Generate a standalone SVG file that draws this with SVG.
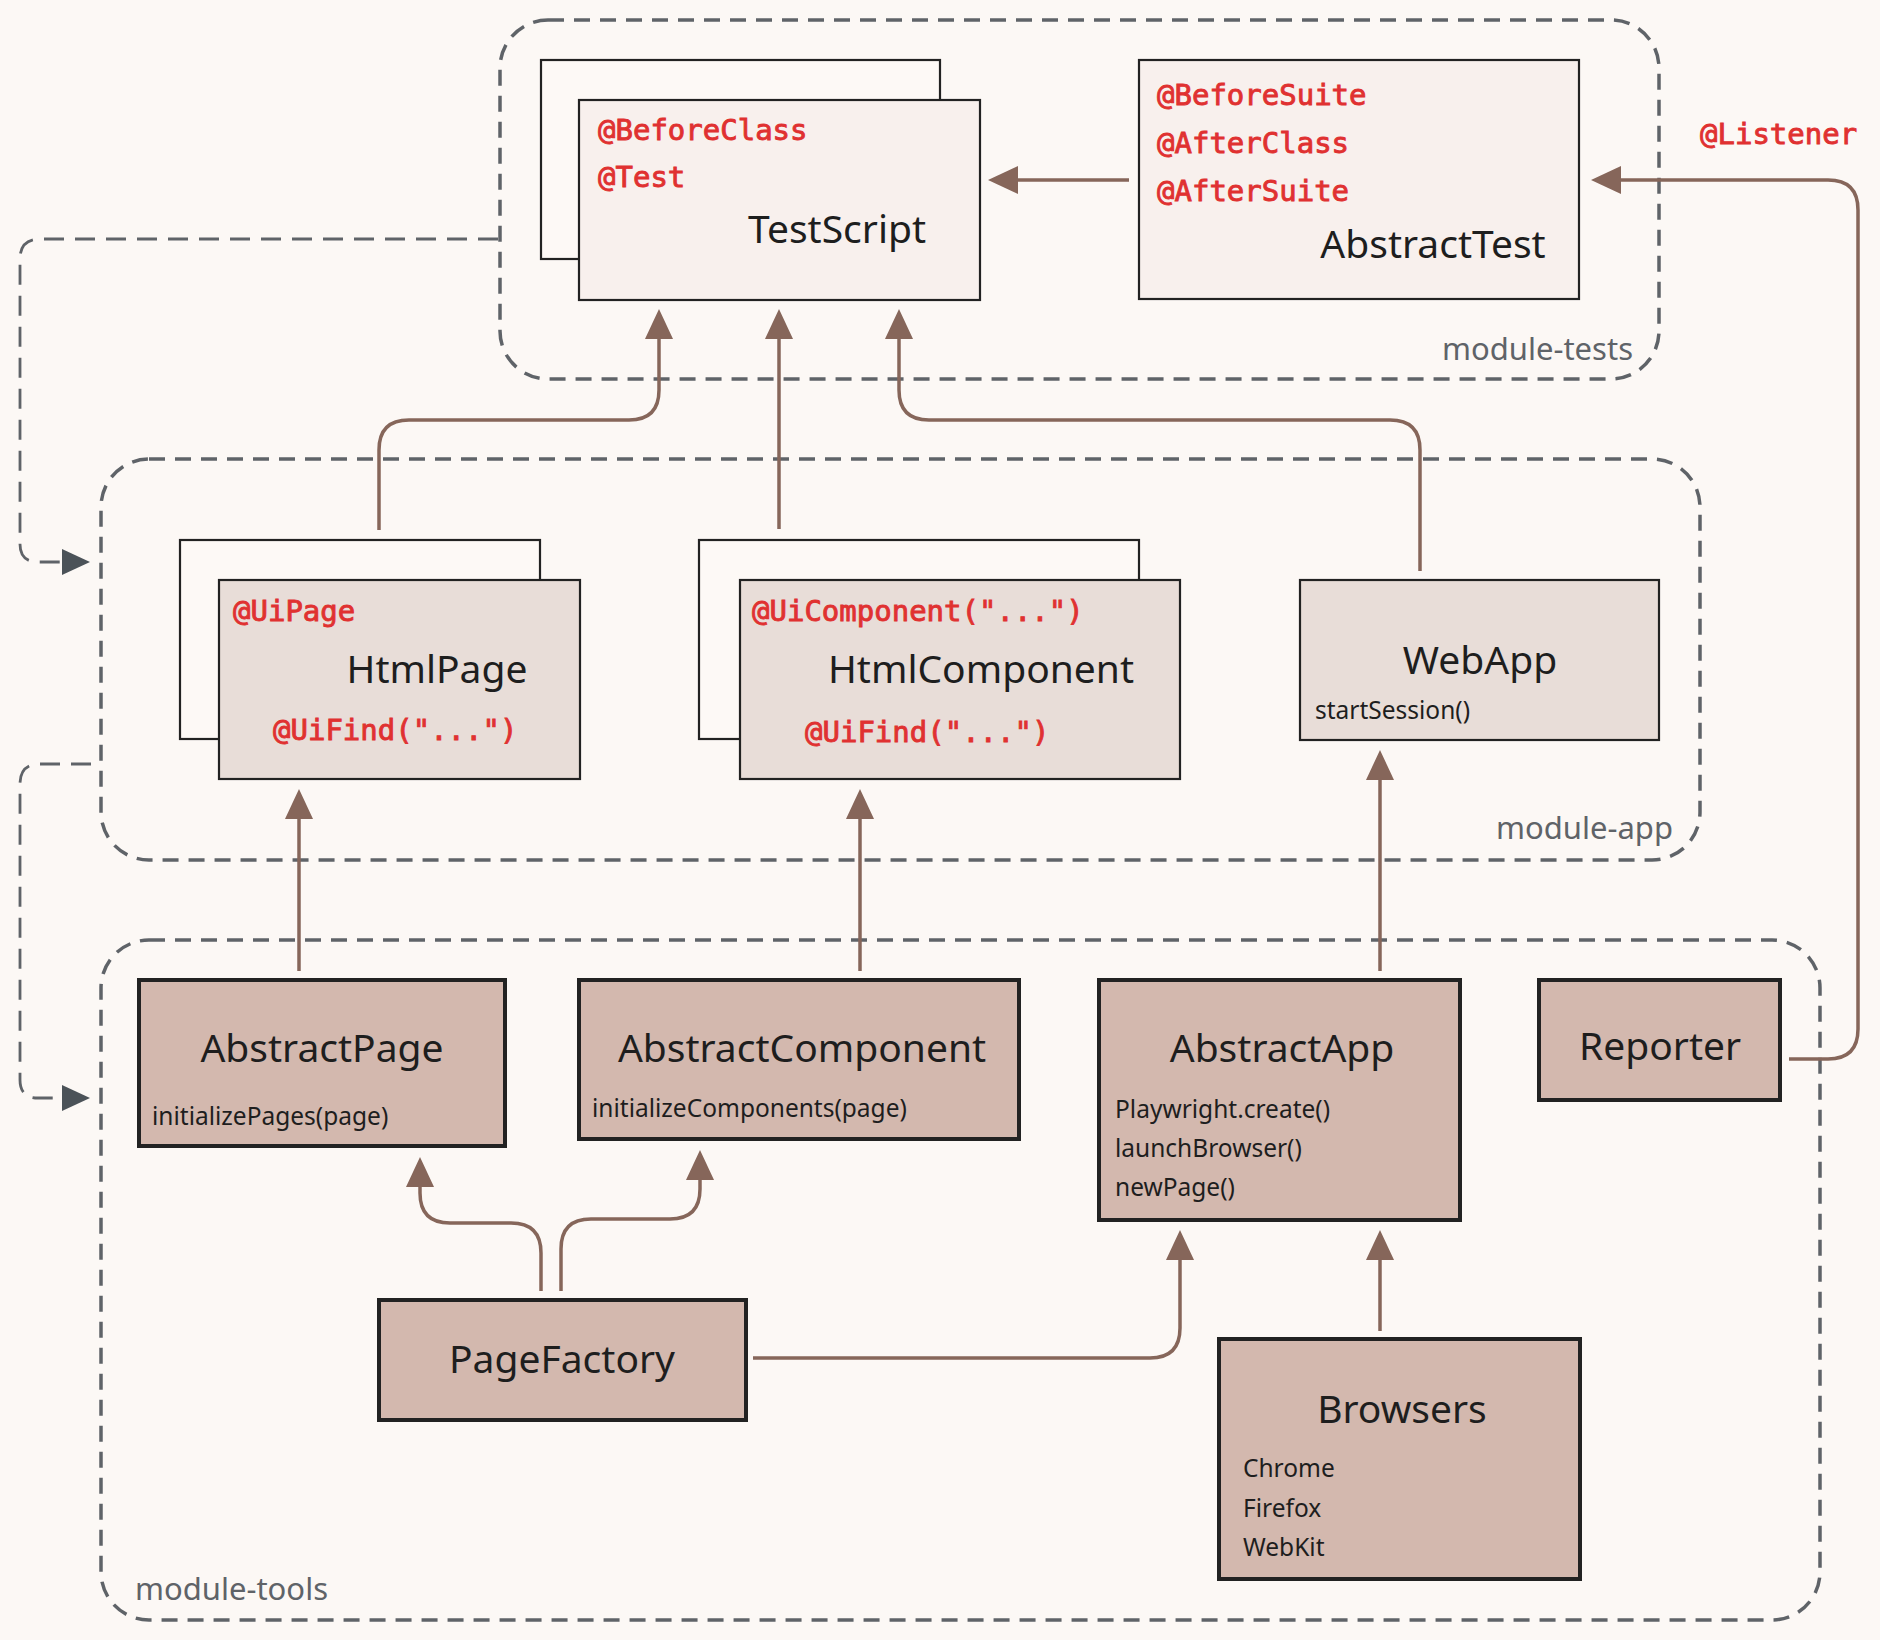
<svg xmlns="http://www.w3.org/2000/svg" width="1880" height="1640" viewBox="0 0 1880 1640">
<defs>
<marker id="ah" markerWidth="30" markerHeight="28" refX="1" refY="14" orient="auto" markerUnits="userSpaceOnUse" overflow="visible">
<path d="M0,0 L30,14 L0,28 Z" fill="#86665a"/>
</marker>
<marker id="ahg" markerWidth="28" markerHeight="28" refX="1" refY="14" orient="auto" markerUnits="userSpaceOnUse" overflow="visible">
<path d="M0,1 L28,14 L0,27 Z" fill="#4b5258"/>
</marker>
<style>
.mod{fill:none;stroke:#5f6368;stroke-width:3.5;stroke-dasharray:16 10;}
.modlbl{font-family:"Noto Sans","Liberation Sans",sans-serif;font-size:31px;fill:#5f6368;}
.dash{fill:none;stroke:#5f6368;stroke-width:2.8;stroke-dasharray:20 11;}
.con{fill:none;stroke:#86665a;stroke-width:3.5;marker-end:url(#ah);}
.back{fill:#fdf9f6;stroke:#222;stroke-width:2.2;}
.top{fill:#f8f0ed;stroke:#222;stroke-width:2.2;}
.mid{fill:#e8ddd8;stroke:#222;stroke-width:2.2;}
.bot{fill:#d3b8ae;stroke:#222;stroke-width:4;}
.title{font-family:"Noto Sans","Liberation Sans",sans-serif;font-size:39px;fill:#1e1e1e;text-anchor:middle;}
.sub{font-family:"Noto Sans","Liberation Sans",sans-serif;font-size:24.5px;fill:#1e1e1e;}
.ann{font-family:"DejaVu Sans Mono","Liberation Mono",monospace;font-size:29px;fill:#e03131;stroke:#e03131;stroke-width:0.9px;}
</style>
</defs>
<rect width="1880" height="1640" fill="#fcf8f5"/>

<g id="module-tests">
<rect class="mod" x="500" y="20" width="1159" height="359" rx="48"/>
<text class="modlbl" x="1633" y="360" text-anchor="end">module-tests</text>
</g>
<g id="module-app">
<rect class="mod" x="101" y="459" width="1599" height="401" rx="48"/>
<text class="modlbl" x="1673" y="839" text-anchor="end">module-app</text>
</g>
<g id="module-tools">
<rect class="mod" x="101" y="940" width="1719" height="680" rx="48"/>
<text class="modlbl" x="135" y="1600">module-tools</text>
</g>

<g id="connectors">
<path class="dash" d="M498,239 H40 Q20,239 20,259 V544 Q20,562 38,562 H63" marker-end="url(#ahg)"/>
<path class="dash" d="M91,764 H40 Q20,764 20,784 V1080 Q20,1098 38,1098 H63" marker-end="url(#ahg)"/>
<path class="con" d="M1129,180 H1017"/>
<path class="con" d="M1789,1059 H1828 Q1858,1059 1858,1029 V210 Q1858,180 1828,180 H1620"/>
<path class="con" d="M379,530 V450 Q379,420 409,420 H629 Q659,420 659,390 V338"/>
<path class="con" d="M779,529 V338"/>
<path class="con" d="M1420,571 V450 Q1420,420 1390,420 H929 Q899,420 899,390 V338"/>
<path class="con" d="M299,971 V818"/>
<path class="con" d="M860,971 V818"/>
<path class="con" d="M1380,971 V779"/>
<path class="con" d="M541,1291 V1253 Q541,1223 511,1223 H450 Q420,1223 420,1193 V1186"/>
<path class="con" d="M561,1291 V1249 Q561,1219 591,1219 H670 Q700,1219 700,1189 V1179"/>
<path class="con" d="M753,1358 H1150 Q1180,1358 1180,1328 V1259"/>
<path class="con" d="M1380,1331 V1259"/>
</g>
<text class="ann" x="1700" y="144">@Listener</text>

<g id="TestScript">
<rect class="back" x="541" y="60" width="399" height="199"/>
<rect class="top" x="579" y="100" width="401" height="200"/>
<text class="ann" x="598" y="140">@BeforeClass</text>
<text class="ann" x="598" y="187">@Test</text>
<text class="title" x="837" y="243">TestScript</text>
</g>

<g id="AbstractTest">
<rect class="top" x="1139" y="60" width="440" height="239"/>
<text class="ann" x="1157" y="105">@BeforeSuite</text>
<text class="ann" x="1157" y="153">@AfterClass</text>
<text class="ann" x="1157" y="201">@AfterSuite</text>
<text class="title" x="1433" y="258">AbstractTest</text>
</g>

<g id="HtmlPage">
<rect class="back" x="180" y="540" width="360" height="199"/>
<rect class="mid" x="219" y="580" width="361" height="199"/>
<text class="ann" x="233" y="621">@UiPage</text>
<text class="title" x="437" y="683">HtmlPage</text>
<text class="ann" x="273" y="740">@UiFind("...")</text>
</g>

<g id="HtmlComponent">
<rect class="back" x="699" y="540" width="440" height="199"/>
<rect class="mid" x="740" y="580" width="440" height="199"/>
<text class="ann" x="752" y="621">@UiComponent("...")</text>
<text class="title" x="981" y="683">HtmlComponent</text>
<text class="ann" x="805" y="742">@UiFind("...")</text>
</g>

<g id="WebApp">
<rect class="mid" x="1300" y="580" width="359" height="160"/>
<text class="title" x="1480" y="674">WebApp</text>
<text class="sub" x="1315" y="719">startSession()</text>
</g>

<g id="AbstractPage">
<rect class="bot" x="139" y="980" width="366" height="166"/>
<text class="title" x="322" y="1062">AbstractPage</text>
<text class="sub" x="152" y="1125">initializePages(page)</text>
</g>

<g id="AbstractComponent">
<rect class="bot" x="579" y="980" width="440" height="159"/>
<text class="title" x="802" y="1062">AbstractComponent</text>
<text class="sub" x="592" y="1117">initializeComponents(page)</text>
</g>

<g id="AbstractApp">
<rect class="bot" x="1099" y="980" width="361" height="240"/>
<text class="title" x="1282" y="1062">AbstractApp</text>
<text class="sub" x="1115" y="1118">Playwright.create()</text>
<text class="sub" x="1115" y="1157">launchBrowser()</text>
<text class="sub" x="1115" y="1196">newPage()</text>
</g>

<g id="Reporter">
<rect class="bot" x="1539" y="980" width="241" height="120"/>
<text class="title" x="1660" y="1060">Reporter</text>
</g>

<g id="PageFactory">
<rect class="bot" x="379" y="1300" width="367" height="120"/>
<text class="title" x="562" y="1373">PageFactory</text>
</g>

<g id="Browsers">
<rect class="bot" x="1219" y="1339" width="361" height="240"/>
<text class="title" x="1402" y="1423">Browsers</text>
<text class="sub" x="1243" y="1477">Chrome</text>
<text class="sub" x="1243" y="1517">Firefox</text>
<text class="sub" x="1243" y="1556">WebKit</text>
</g>
</svg>
